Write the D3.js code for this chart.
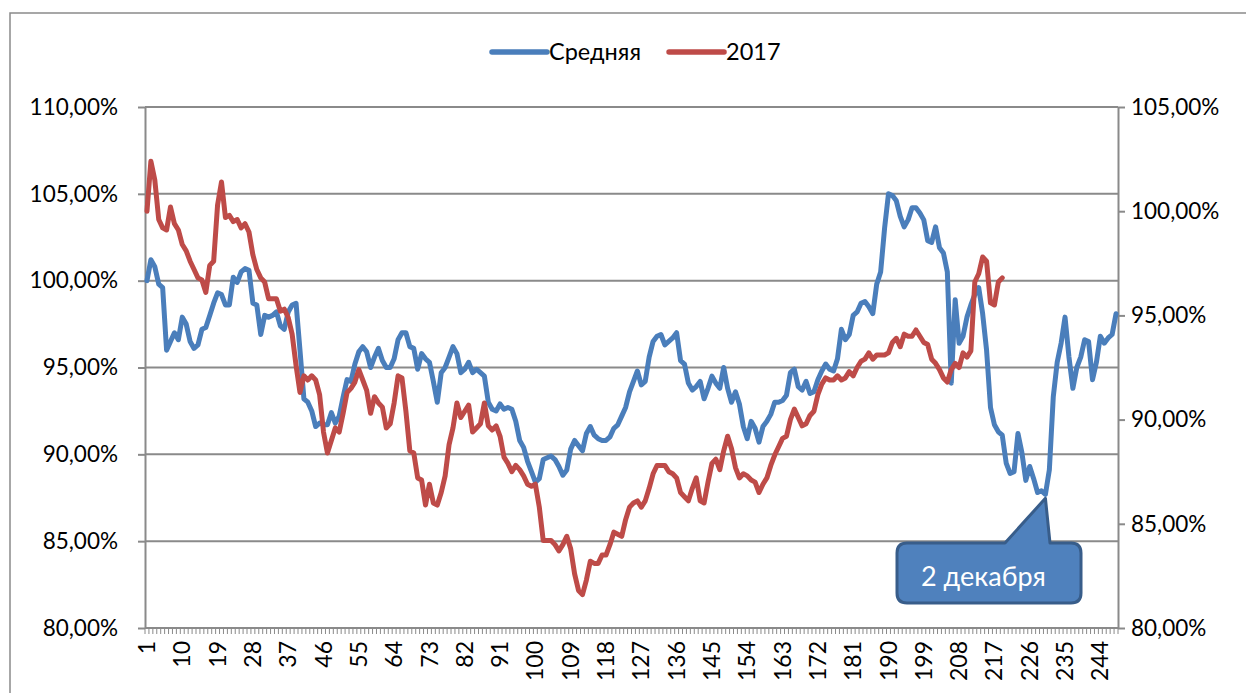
<!DOCTYPE html>
<html>
<head>
<meta charset="utf-8">
<script src="https://cdn.jsdelivr.net/npm/d3@7"></script>
<style>
  body { margin: 0; background: #fff; }
  svg { display: block; font-family: Lato, "Noto Sans", sans-serif; }
</style>
</head>
<body>
<script>
var width = 1246, height = 693;

// Средняя (left axis, %)
const srednyaya = [
  100.0, 101.2, 100.8, 99.8, 99.6, 96.0, 96.5, 97.0, 96.6, 97.9,
  97.5, 96.5, 96.1, 96.3, 97.2, 97.3, 98.0, 98.7, 99.3, 99.2,
  98.6, 98.6, 100.2, 99.9, 100.5, 100.7, 100.6, 98.7, 98.6, 96.9,
  98.0, 97.9, 98.0, 98.2, 97.4, 97.2, 98.2, 98.6, 98.7, 96.0,
  93.2, 93.0, 92.5, 91.6, 91.8, 91.7, 91.7, 92.4, 91.8, 92.2,
  93.3, 94.3, 94.2, 95.2, 95.9, 96.2, 95.9, 95.0, 95.6, 96.1,
  95.4, 95.0, 95.0, 95.5, 96.6, 97.0, 97.0, 96.2, 96.1, 94.9,
  95.8, 95.5, 95.3, 94.2, 93.0, 94.7, 95.0, 95.6, 96.2, 95.8,
  94.7, 94.9, 95.3, 94.7, 94.9, 94.7, 94.5, 93.0, 92.6, 92.5,
  92.9, 92.6, 92.7, 92.6, 91.9, 90.8, 90.4, 89.6, 89.0, 88.4,
  88.6, 89.7, 89.8, 89.9, 89.7, 89.3, 88.8, 89.1, 90.3, 90.8,
  90.5, 90.2, 91.2, 91.6, 91.1, 90.9, 90.8, 90.8, 91.0, 91.5,
  91.7, 92.2, 92.7, 93.6, 94.2, 94.8, 94.0, 94.2, 95.6, 96.5,
  96.8, 96.9, 96.3, 96.5, 96.7, 97.0, 95.4, 95.2, 94.1, 93.7,
  93.9, 94.2, 93.2, 93.8, 94.5, 94.1, 93.8, 95.0, 93.8, 93.0,
  93.6, 92.9, 91.6, 90.9, 91.9, 91.5, 90.7, 91.6, 91.9, 92.3,
  93.0, 93.0, 93.1, 93.4, 94.7, 94.9, 93.9, 93.7, 94.2, 93.5,
  93.6, 94.3, 94.8, 95.2, 94.9, 94.8, 95.5, 97.2, 96.6, 96.9,
  98.0, 98.2, 98.7, 98.8, 98.5, 98.1, 99.8, 100.5, 103.0, 105.0,
  104.9, 104.6, 103.7, 103.1, 103.5, 104.2, 104.2, 103.9, 103.5, 102.3,
  102.2, 103.1, 101.9, 101.6, 100.5, 94.1, 98.9, 96.4, 96.8, 97.9,
  98.6, 99.2, 99.6, 98.1, 96.0, 92.7, 91.7, 91.3, 91.1, 89.5,
  88.9, 89.0, 91.2, 90.1, 88.5, 89.3, 88.6, 87.8, 87.9, 87.7,
  89.1, 93.3, 95.3, 96.4, 97.9, 95.6, 93.8, 95.0, 95.6, 96.6,
  96.5, 94.3, 95.3, 96.8, 96.4, 96.7, 96.9, 98.1
];

// 2017 (right axis, %)
const year2017 = [
  100.0, 102.4, 101.5, 99.6, 99.2, 99.1, 100.2, 99.4, 99.1, 98.4,
  98.1, 97.6, 97.2, 96.8, 96.7, 96.1, 97.4, 97.6, 100.3, 101.4,
  99.7, 99.8, 99.5, 99.6, 99.2, 99.4, 99.0, 97.9, 97.2, 96.8,
  96.6, 95.8, 95.8, 95.8, 95.2, 95.3, 94.9, 94.1, 92.6, 91.3,
  92.1, 91.9, 92.1, 91.9, 91.2, 89.4, 88.4, 89.0, 89.6, 89.4,
  90.3, 91.3, 91.5, 91.8, 92.4, 91.9, 91.4, 90.3, 91.1, 90.8,
  90.6, 89.6, 89.8, 90.8, 92.1, 92.0, 90.4, 88.5, 88.4, 87.2,
  87.1, 85.9, 86.9, 86.0, 85.9, 86.5, 87.3, 88.8, 89.6, 90.8,
  90.1, 90.4, 90.7, 89.4, 89.6, 89.8, 90.8, 89.7, 89.5, 89.7,
  89.2, 88.2, 87.9, 87.5, 87.8, 87.6, 87.3, 86.9, 86.8, 86.9,
  85.8, 84.2, 84.2, 84.2, 84.0, 83.7, 84.0, 84.4, 83.8, 82.6,
  81.8, 81.6, 82.3, 83.2, 83.1, 83.1, 83.5, 83.5, 84.0, 84.6,
  84.5, 84.4, 85.2, 85.8, 86.0, 86.1, 85.8, 86.1, 86.7, 87.4,
  87.8, 87.8, 87.8, 87.5, 87.4, 87.2, 86.5, 86.3, 86.1, 86.7,
  87.2, 86.1, 86.0, 87.0, 87.9, 88.1, 87.6, 88.5, 89.2, 88.6,
  87.7, 87.2, 87.4, 87.3, 87.1, 87.0, 86.5, 86.9, 87.2, 87.8,
  88.3, 88.7, 89.1, 89.2, 90.0, 90.5, 90.1, 89.7, 89.8, 90.2,
  90.4, 91.2, 91.7, 92.0, 91.9, 91.9, 92.1, 91.9, 92.0, 92.3,
  92.1, 92.5, 92.8, 92.9, 93.2, 92.9, 93.1, 93.1, 93.1, 93.2,
  93.7, 93.9, 93.5, 94.1, 94.0, 94.0, 94.3, 94.0, 93.7, 93.6,
  92.9, 92.7, 92.4, 92.0, 91.8, 92.4, 92.7, 92.5, 93.2, 93.0,
  93.3, 96.6, 97.0, 97.8, 97.6, 95.6, 95.5, 96.6, 96.8
];

const days = d3.range(1, srednyaya.length + 1);
const dayLabels = [1, 10, 19, 28, 37, 46, 55, 64, 73, 82, 91, 100, 109, 118,
  127, 136, 145, 154, 163, 172, 181, 190, 199, 208, 217, 226, 235, 244];
const leftTicks = [80, 85, 90, 95, 100, 105, 110];
const rightTicks = [80, 85, 90, 95, 100, 105];
const seriesNames = ["Средняя", "2017"];
const seriesColors = ["#4a7ebb", "#be4b48"];
const calloutDay = 230;
const calloutText = "2 декабря";

const plot = { left: 145, right: 1118, top: 107, bottom: 628 };
const gridColor = "#8a8a8a";

const svg = d3.select("body").append("svg").attr("width", width).attr("height", height);

// chart area border
svg.append("rect").attr("x", 10).attr("y", 13).attr("width", width).attr("height", height)
  .attr("fill", "#fff").attr("stroke", gridColor).attr("stroke-width", 1.5);

const x = d3.scaleBand().domain(days).range([plot.left, plot.right]);
const xc = d => x(d) + x.bandwidth() / 2;
const yL = d3.scaleLinear().domain([80, 110]).range([plot.bottom, plot.top]);
const yR = d3.scaleLinear().domain([80, 105]).range([plot.bottom, plot.top]);
const fmt = v => d3.format(".2f")(v).replace(".", ",") + "%";

// gridlines
svg.append("g").selectAll("line").data(leftTicks).enter().append("line")
  .attr("x1", plot.left).attr("x2", plot.right)
  .attr("y1", d => yL(d)).attr("y2", d => yL(d))
  .attr("stroke", gridColor).attr("stroke-width", 2);

// left axis
const axL = svg.append("g").attr("transform", `translate(${plot.left},0)`)
  .call(d3.axisLeft(yL).tickValues(leftTicks).tickFormat(fmt).tickSize(7).tickSizeOuter(0).tickPadding(20));
// right axis
const axR = svg.append("g").attr("transform", `translate(${plot.right},0)`)
  .call(d3.axisRight(yR).tickValues(rightTicks).tickFormat(fmt).tickSize(7).tickSizeOuter(0).tickPadding(6));
[axL, axR].forEach(ax => {
  ax.select(".domain").attr("stroke", gridColor).attr("stroke-width", 2);
  ax.selectAll(".tick line").attr("stroke", gridColor).attr("stroke-width", 2);
  ax.selectAll(".tick text").attr("font-size", 22.5).attr("fill", "#000")
    .attr("font-family", "Lato, 'Noto Sans', sans-serif");
});

// bottom axis: ticks at every category boundary
const gx = svg.append("g");
gx.append("line").attr("x1", plot.left).attr("x2", plot.right)
  .attr("y1", plot.bottom).attr("y2", plot.bottom)
  .attr("stroke", gridColor).attr("stroke-width", 2);
gx.selectAll("line.t").data(days.concat([null])).enter().append("line").attr("class", "t")
  .attr("x1", d => d === null ? plot.right : x(d)).attr("x2", d => d === null ? plot.right : x(d))
  .attr("y1", plot.bottom).attr("y2", plot.bottom + 6)
  .attr("stroke", gridColor).attr("stroke-width", 1);
gx.selectAll("text").data(dayLabels).enter().append("text")
  .attr("transform", d => `translate(${xc(d)},641) rotate(-90)`)
  .attr("text-anchor", "end").attr("dy", "0.35em")
  .attr("font-size", 23).text(d => d);

// lines
const lineL = d3.line().x((d, i) => xc(days[i])).y(d => yL(d));
const lineR = d3.line().x((d, i) => xc(days[i])).y(d => yR(d));
svg.append("path").datum(srednyaya).attr("d", lineL)
  .attr("fill", "none").attr("stroke", seriesColors[0]).attr("stroke-width", 5)
  .attr("stroke-linejoin", "round").attr("stroke-linecap", "round");
svg.append("path").datum(year2017).attr("d", lineR)
  .attr("fill", "none").attr("stroke", seriesColors[1]).attr("stroke-width", 5)
  .attr("stroke-linejoin", "round").attr("stroke-linecap", "round");

// legend
const leg = svg.append("g");
let lx = 492;
seriesNames.forEach((name, i) => {
  leg.append("line").attr("x1", lx).attr("x2", lx + 55).attr("y1", 52).attr("y2", 52)
    .attr("stroke", seriesColors[i]).attr("stroke-width", 5.5).attr("stroke-linecap", "round");
  const t = leg.append("text").attr("x", lx + 57).attr("y", 52).attr("dy", "0.35em")
    .attr("font-size", 23.5).text(name);
  lx += 57 + t.node().getComputedTextLength() + 28;
});

// callout
const tipX = xc(calloutDay), tipY = yL(srednyaya[calloutDay - 1]) + 4;
const bx0 = 897, bx1 = 1081, by0 = 543, by1 = 603, r = 10;
const p = d3.path();
p.moveTo(bx0 + r, by0);
p.lineTo(1005, by0);
p.lineTo(tipX, tipY);
p.lineTo(1050, by0);
p.lineTo(bx1 - r, by0);
p.quadraticCurveTo(bx1, by0, bx1, by0 + r);
p.lineTo(bx1, by1 - r);
p.quadraticCurveTo(bx1, by1, bx1 - r, by1);
p.lineTo(bx0 + r, by1);
p.quadraticCurveTo(bx0, by1, bx0, by1 - r);
p.lineTo(bx0, by0 + r);
p.quadraticCurveTo(bx0, by0, bx0 + r, by0);
p.closePath();
svg.append("path").attr("d", p.toString())
  .attr("fill", "#4f81bd").attr("stroke", "#385d8a").attr("stroke-width", 3)
  .attr("stroke-linejoin", "round");
svg.append("text").attr("x", 921).attr("y", 586).attr("fill", "#fff")
  .attr("font-size", 27).text(calloutText);
</script>
</body>
</html>
